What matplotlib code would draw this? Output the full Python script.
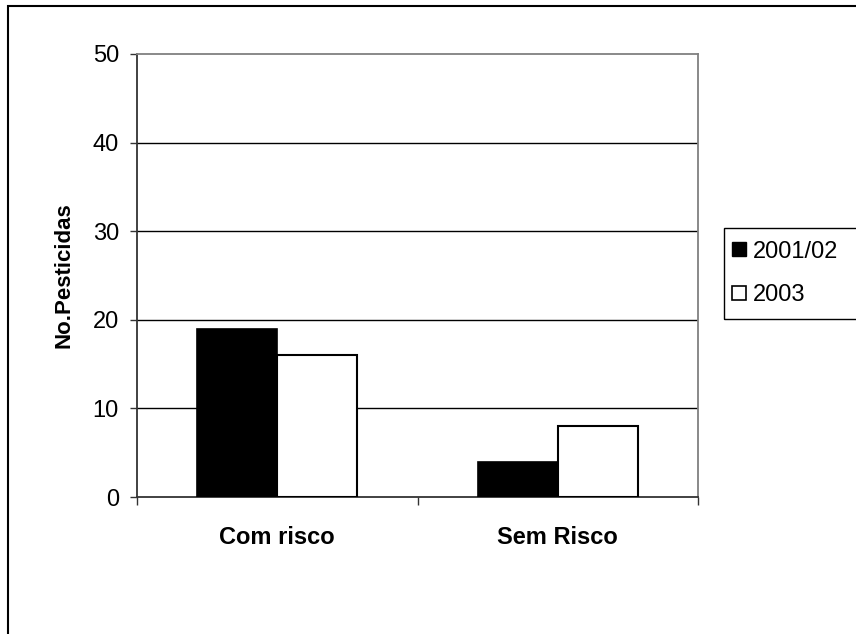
import matplotlib
matplotlib.use("Agg")
import matplotlib.pyplot as plt
from matplotlib.patches import Rectangle
from matplotlib.lines import Line2D
import numpy as np

categories = ["Com risco", "Sem Risco"]
series_names = ["2001/02", "2003"]
values_2001 = [19, 4]
values_2003 = [16, 8]
y_ticks = [0, 10, 20, 30, 40, 50]

plt.rcParams['font.family'] = ['Liberation Sans', 'DejaVu Sans']

fig = plt.figure(figsize=(8.56, 6.34), dpi=100)
W, H = 856, 634
ax = fig.add_axes([137 / W, 1 - 497 / H, (698 - 137) / W, (497 - 54) / H])

x = np.arange(len(categories)) + 0.5
bw = 0.285
ax.bar(x - bw / 2, values_2001, bw, color="black", edgecolor="black", linewidth=1.2, zorder=3)
ax.bar(x + bw / 2, values_2003, bw, color="white", edgecolor="black", linewidth=1.5, zorder=3)

ax.set_xlim(0, len(categories))
ax.set_ylim(0, 50)
ax.set_yticks(y_ticks)
ax.set_yticklabels([str(v) for v in y_ticks], fontsize=17)
for yv in y_ticks[1:-1]:
    ax.axhline(yv, color="black", linewidth=1.0, zorder=1)

ax.set_xticks(np.arange(len(categories) + 1))
ax.set_xticklabels([])
ax.set_xticks(x, minor=True)
ax.set_xticklabels(categories, minor=True, fontsize=17, fontweight="bold")
ax.tick_params(axis="x", which="minor", length=0, pad=21)
ax.tick_params(axis="x", which="major", length=6, width=1, color="#333333", direction="out")
ax.tick_params(axis="y", length=5, width=1, color="#333333", direction="out", pad=8)

ax.spines["top"].set_color("#808080")
ax.spines["right"].set_color("#808080")
ax.spines["left"].set_color("#333333")
ax.spines["bottom"].set_color("#333333")
for s in ax.spines.values():
    s.set_linewidth(1.3)

ax.set_ylabel("No.Pesticidas", fontsize=16, fontweight="bold", labelpad=13)

# outer chart border
fig.add_artist(Rectangle((8 / W, -0.1), 1.2, 1.1 - 6 / H, transform=fig.transFigure,
                         fill=False, edgecolor="black", linewidth=1.5))

# legend frame
fig.add_artist(Rectangle((724 / W, 1 - 319 / H), 0.3, (319 - 228) / H, transform=fig.transFigure,
                         fill=False, edgecolor="black", linewidth=1.0))
handles = [
    Line2D([], [], marker="s", linestyle="none", markersize=10, markerfacecolor="black", markeredgecolor="black"),
    Line2D([], [], marker="s", linestyle="none", markersize=10, markerfacecolor="white", markeredgecolor="black", markeredgewidth=1.2),
]
fig.legend(handles, series_names, loc="upper left", bbox_to_anchor=(725 / W, 1 - 236 / H),
           frameon=False, fontsize=17, handlelength=0.8, handletextpad=0.2,
           labelspacing=0.9, borderpad=0.2, borderaxespad=0.0)

fig.savefig("out.png", dpi=100)
